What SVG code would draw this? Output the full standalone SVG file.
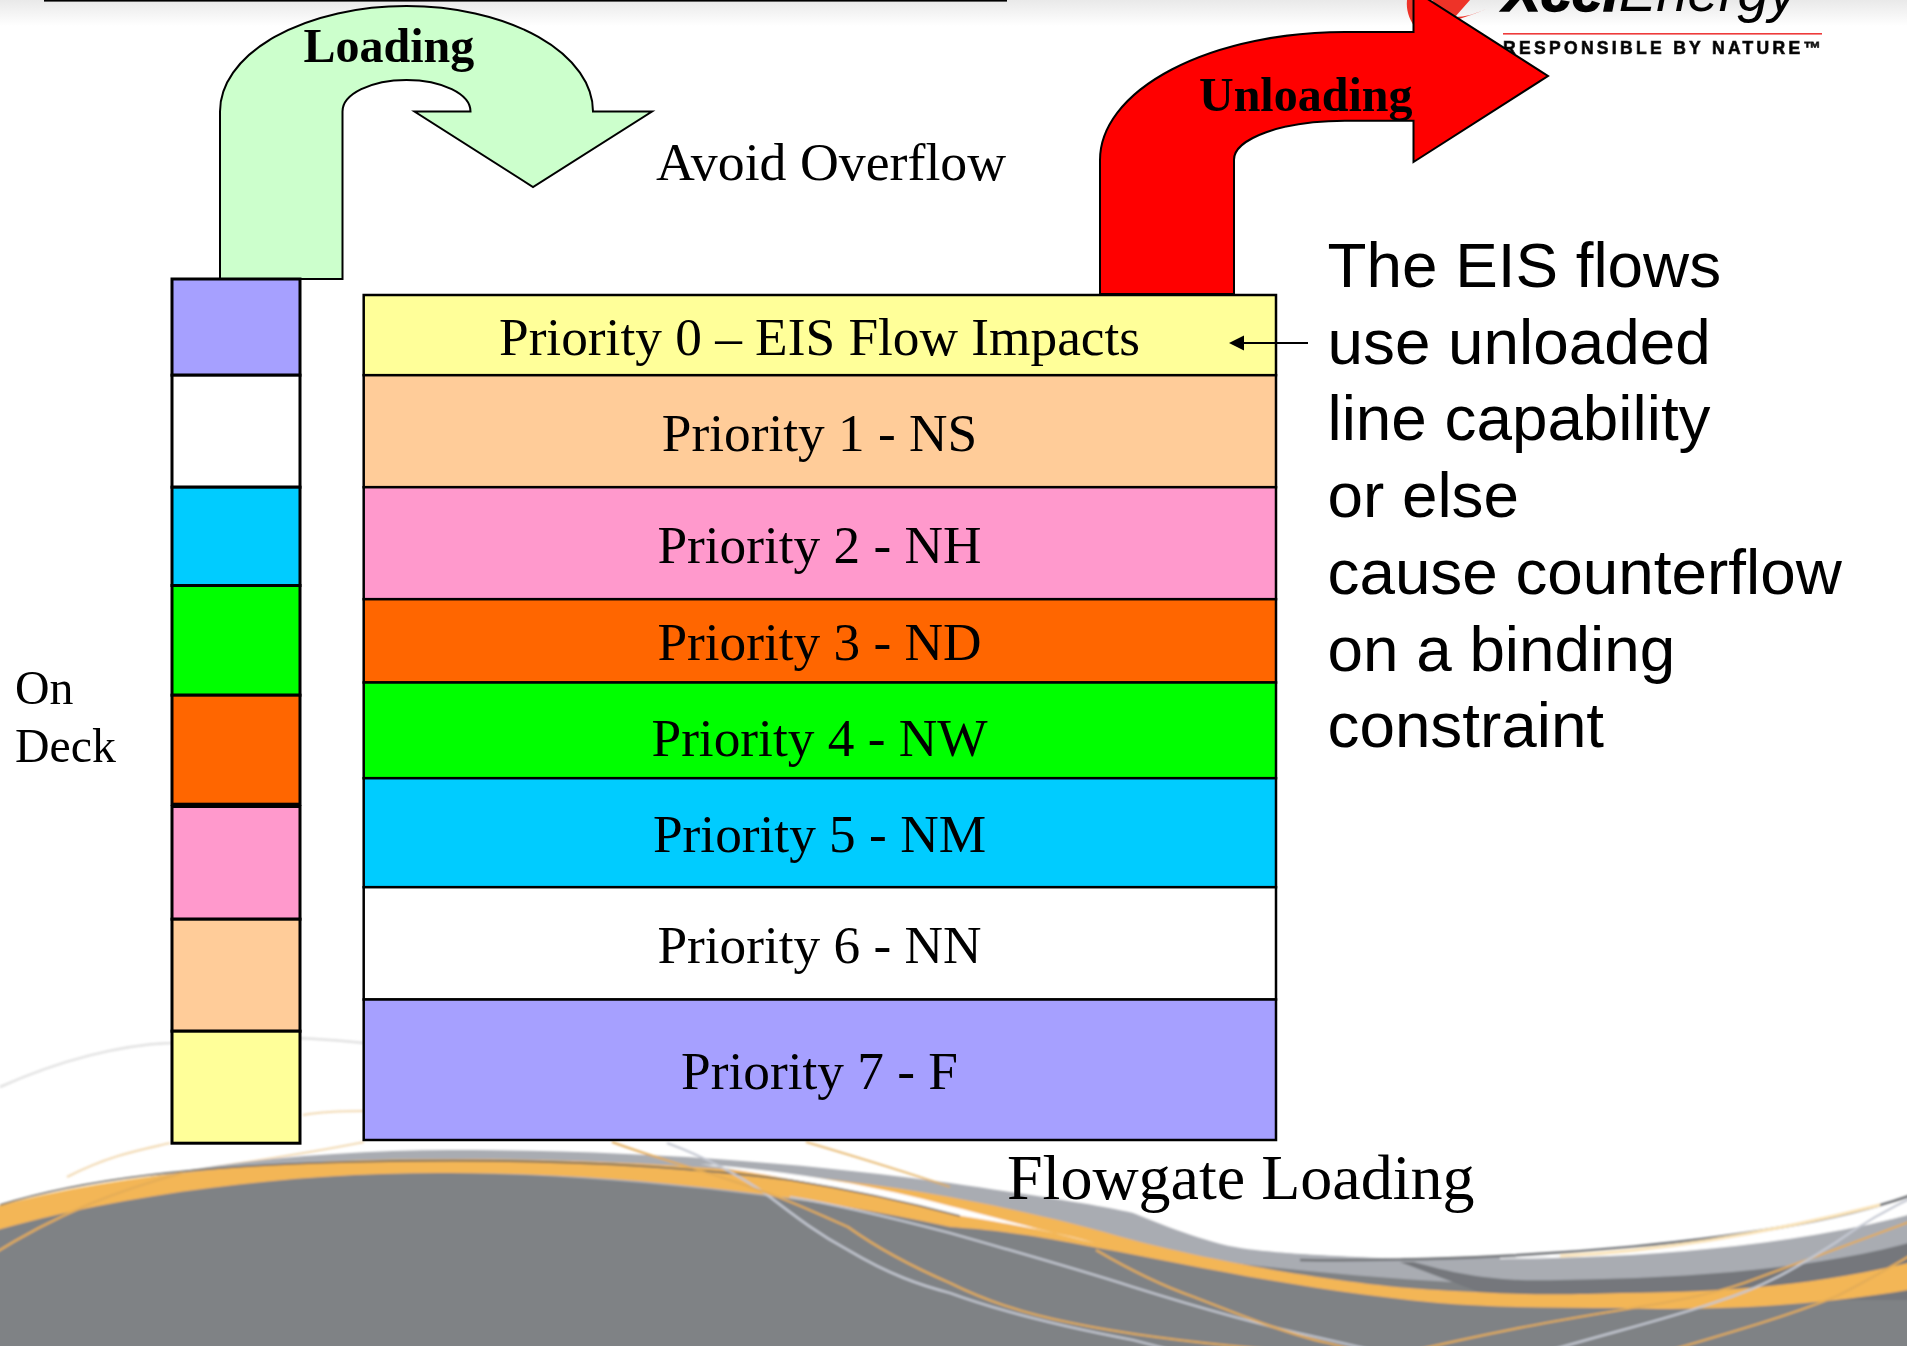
<svg xmlns="http://www.w3.org/2000/svg" width="1907" height="1346" viewBox="0 0 1907 1346">
<style>
.box{stroke:#000;stroke-width:2.500}
.stack{stroke:#000;stroke-width:3}
.arrowshape{stroke:#000;stroke-width:2}
.serif{font-family:"Liberation Serif","Times New Roman",serif;fill:#000}
.sans{font-family:"Liberation Sans",Arial,sans-serif;fill:#000}
.label{font-size:53.300px;text-anchor:middle}
.note{font-size:63.800px}
.thin{fill:none;stroke-width:2.200}
.w{stroke:#c4c8d2}
.g{stroke:#e3ac58}
.lg{stroke:#e2e2e2;stroke-width:2.500}
</style>
<defs>
<linearGradient id="topfade" x1="0" y1="0" x2="0" y2="1"><stop offset="0" stop-color="#e9e9e9"/><stop offset="1" stop-color="#fff"/></linearGradient>
<filter id="soft" x="-2%" y="-5%" width="104%" height="110%"><feGaussianBlur stdDeviation="0.9"/></filter>
<marker id="head" markerUnits="userSpaceOnUse" markerWidth="16" markerHeight="16" refX="0" refY="8" orient="auto"><path d="M15,0.500 L0,8 L15,15.500Z" transform="translate(15,0) scale(-1,1)"/></marker>
</defs>
<rect width="1907" height="1346" fill="#fff"/>
<g id="background">
<rect width="1907" height="26" fill="url(#topfade)"/>
<rect x="44" y="0" width="963" height="1.600" fill="#000"/>
<g filter="url(#soft)">
<path class="thin lg" d="M0,1087 C60,1060 120,1045 170,1043 C230,1035 300,1036 364,1043"/>
<path class="thin g" opacity=".45" d="M67,1177 C110,1155 140,1150 170,1143 M303,1115 C320,1112 345,1111 364,1111"/>
<path class="thin g" opacity=".45" d="M182,1173 C220,1165 290,1157 364,1142"/>
<path d="M-10,1218 C130,1170 300,1150 450,1150 C650,1150 820,1165 950,1183 C1030,1195 1100,1205 1133,1213 C1180,1232 1220,1247 1255,1250 C1300,1255 1350,1257 1480,1262 L1480,1360 L-10,1360Z" fill="#a9acb2"/>
<path d="M-10,1230 C130,1190 300,1172 450,1173 C650,1175 850,1205 1100,1245 C1250,1268 1400,1282 1560,1287 C1700,1290 1820,1280 1920,1260 V1360 H-10Z" fill="#7f8285"/>
<path d="M1400,1262 C1600,1264 1780,1248 1920,1195 V1300 H1500Z" fill="#74777b"/>
<path d="M1400,1258 C1600,1258 1780,1250 1920,1212 V1240 C1820,1268 1700,1278 1560,1280 C1500,1282 1460,1276 1400,1258Z" fill="#a9acb2"/>
<path d="M1500,1258 C1620,1255 1780,1240 1920,1196 V1212 C1780,1250 1620,1258 1500,1259Z" fill="#fff"/>
<path d="M1300,1260 C1500,1262 1780,1245 1920,1192" fill="none" stroke="#6f7276" stroke-width="2.500"/>
<path d="M1560,1256 C1650,1252 1760,1235 1880,1205" fill="none" stroke="#fae3b8" stroke-width="3"/>
<path d="M-10,1208 C130,1170 300,1159 450,1159 C620,1159 800,1170 950,1197 C1030,1212 1080,1225 1133,1240 C1200,1258 1340,1285 1438,1290 C1520,1295 1560,1295 1621,1293 C1730,1292 1820,1285 1920,1260 V1288 C1840,1303 1720,1312 1621,1308 C1560,1308 1500,1308 1438,1303 C1300,1290 1190,1265 1072,1243 C1000,1229 960,1228 950,1227 C800,1194 620,1173 450,1173 C300,1172 130,1192 -10,1232Z" fill="#f3b656"/>
<path d="M700,1164 C800,1172 880,1187 950,1206 C990,1216 1040,1230 1095,1243 C1040,1228 990,1221 950,1214 C880,1195 790,1178 700,1164Z" fill="#fff"/>
<path d="M0,1205 C80,1180 200,1165 350,1162 C500,1158 650,1162 790,1180 C840,1188 900,1200 960,1216" fill="none" stroke="#6f6a60" stroke-width="1.600"/>
<path class="thin g" d="M-10,1256 C60,1212 120,1190 182,1173"/>
<path class="thin w" d="M667,1143 C700,1155 740,1175 770,1197 C800,1220 820,1235 848,1250 C890,1275 920,1285 950,1293 C1010,1315 1080,1330 1133,1340 L1195,1356"/>
<path class="thin g" d="M612,1142 C660,1160 720,1175 758,1190 C790,1200 820,1215 848,1227 C880,1250 920,1270 950,1283 C990,1303 1030,1315 1072,1323 C1130,1335 1200,1343 1255,1348 L1300,1352"/>
<path class="thin g" opacity=".8" d="M806,1142 C850,1155 900,1170 950,1187"/>
<path class="thin w" d="M790,1197 C840,1205 900,1220 950,1233 C1010,1250 1080,1270 1133,1287 C1200,1308 1260,1325 1316,1337 L1390,1354"/>
<path class="thin g" d="M1096,1250 C1130,1270 1160,1285 1194,1297 C1240,1315 1290,1335 1328,1343 L1370,1354"/>
<path class="thin g" d="M1390,1356 C1500,1330 1560,1320 1621,1310 C1670,1302 1710,1295 1744,1283 C1800,1262 1860,1240 1920,1218"/>
<path class="thin w" d="M1530,1356 C1620,1330 1670,1318 1713,1303 C1770,1285 1800,1265 1835,1243 C1860,1225 1885,1210 1920,1194"/>
<path class="thin g" d="M1650,1356 C1740,1330 1790,1315 1835,1297 C1860,1285 1885,1270 1920,1250"/>
</g>
</g>
<g id="logo">
<text class="sans" x="1503" y="11" font-size="56" font-style="italic" textLength="294" lengthAdjust="spacingAndGlyphs"><tspan font-weight="bold" stroke="#000" stroke-width="1.500">Xcel</tspan>Energy</text>
<rect x="1503" y="33" width="319" height="1.600" fill="#ee3b3b"/>
<text class="sans" x="1503" y="54" font-size="17.500" font-weight="bold" fill="#222" stroke="#222" stroke-width=".7" textLength="318">RESPONSIBLE BY NATURE™</text>
<path d="M1407,0 C1406,10 1409,18 1414,26 L1420,0Z M1432,0 L1450,22 C1462,18 1480,12 1486,9 C1475,14 1465,17 1455,17 L1470,0Z" fill="#ee3328"/>
</g>
<g id="loading-arrow">
<path class="arrowshape" fill="#ccffcc" d="M220,279 V111.500 A186.500,105.500 0 0 1 593,111.500 H652 L533,187 L414.500,111.500 H470.500 A64,31.500 0 0 0 342.500,111.500 V279Z"/>
<text class="serif" x="303.500" y="62" font-size="48" font-weight="bold">Loading</text>
</g>
<g id="unloading-arrow">
<path class="arrowshape" fill="#ff0000" d="M1100,294 V160 A245,128 0 0 1 1345,32 H1413.500 V-10 L1548,76 L1413.500,162 V120.700 H1345 A111,39 0 0 0 1234,160 V294Z"/>
<text class="serif" x="1199" y="110.500" font-size="48" font-weight="bold">Unloading</text>
</g>
<g id="on-deck-stack">
<rect class="stack" x="172" y="279" width="128" height="96.200" fill="#a6a0ff"/>
<rect class="stack" x="172" y="375.200" width="128" height="112" fill="#fff"/>
<rect class="stack" x="172" y="487.200" width="128" height="98.300" fill="#00ccff"/>
<rect class="stack" x="172" y="585.500" width="128" height="109.700" fill="#00ff00"/>
<rect class="stack" x="172" y="695.200" width="128" height="109" fill="#ff6600"/>
<rect class="stack" x="172" y="806.500" width="128" height="112.700" fill="#ff99cc"/>
<rect class="stack" x="172" y="919.200" width="128" height="112" fill="#ffcc99"/>
<rect class="stack" x="172" y="1031.200" width="128" height="112" fill="#ffff99"/>
</g>
<g id="priority-0"><rect class="box" x="363.700" y="295" width="912.300" height="80.200" fill="#ffff99"/><text class="serif label" x="819.500" y="355">Priority 0 – EIS Flow Impacts</text></g>
<g id="priority-1"><rect class="box" x="363.700" y="375.200" width="912.300" height="112" fill="#ffcc99"/><text class="serif label" x="819.500" y="451">Priority 1 - NS</text></g>
<g id="priority-2"><rect class="box" x="363.700" y="487.200" width="912.300" height="112" fill="#ff99cc"/><text class="serif label" x="819.500" y="563">Priority 2 - NH</text></g>
<g id="priority-3"><rect class="box" x="363.700" y="599.200" width="912.300" height="83.300" fill="#ff6600"/><text class="serif label" x="819.500" y="660">Priority 3 - ND</text></g>
<g id="priority-4"><rect class="box" x="363.700" y="682.500" width="912.300" height="95.700" fill="#00ff00"/><text class="serif label" x="819.500" y="756">Priority 4 - NW</text></g>
<g id="priority-5"><rect class="box" x="363.700" y="778.200" width="912.300" height="109" fill="#00ccff"/><text class="serif label" x="819.500" y="852">Priority 5 - NM</text></g>
<g id="priority-6"><rect class="box" x="363.700" y="887.200" width="912.300" height="112.300" fill="#fff"/><text class="serif label" x="819.500" y="963">Priority 6 - NN</text></g>
<g id="priority-7"><rect class="box" x="363.700" y="999.500" width="912.300" height="140.500" fill="#a6a0ff"/><text class="serif label" x="819.500" y="1089">Priority 7 - F</text></g>
<g id="connectors"><line x1="1308" y1="343" x2="1244" y2="343" stroke="#000" stroke-width="2" marker-end="url(#head)"/></g>
<g id="labels">
<text class="serif" x="656" y="179.500" font-size="53.800">Avoid Overflow</text>
<text class="serif" x="15" y="704" font-size="47.800">On</text>
<text class="serif" x="15" y="762" font-size="47.800">Deck</text>
<text class="serif" x="1007" y="1199" font-size="64">Flowgate Loading</text>
<text class="sans note" x="1327.500" y="287">The EIS flows</text>
<text class="sans note" x="1327.500" y="363.500">use unloaded</text>
<text class="sans note" x="1327.500" y="440">line capability</text>
<text class="sans note" x="1327.500" y="517">or else</text>
<text class="sans note" x="1327.500" y="593.500">cause counterflow</text>
<text class="sans note" x="1327.500" y="670.500">on a binding</text>
<text class="sans note" x="1327.500" y="747">constraint</text>
</g>
</svg>
